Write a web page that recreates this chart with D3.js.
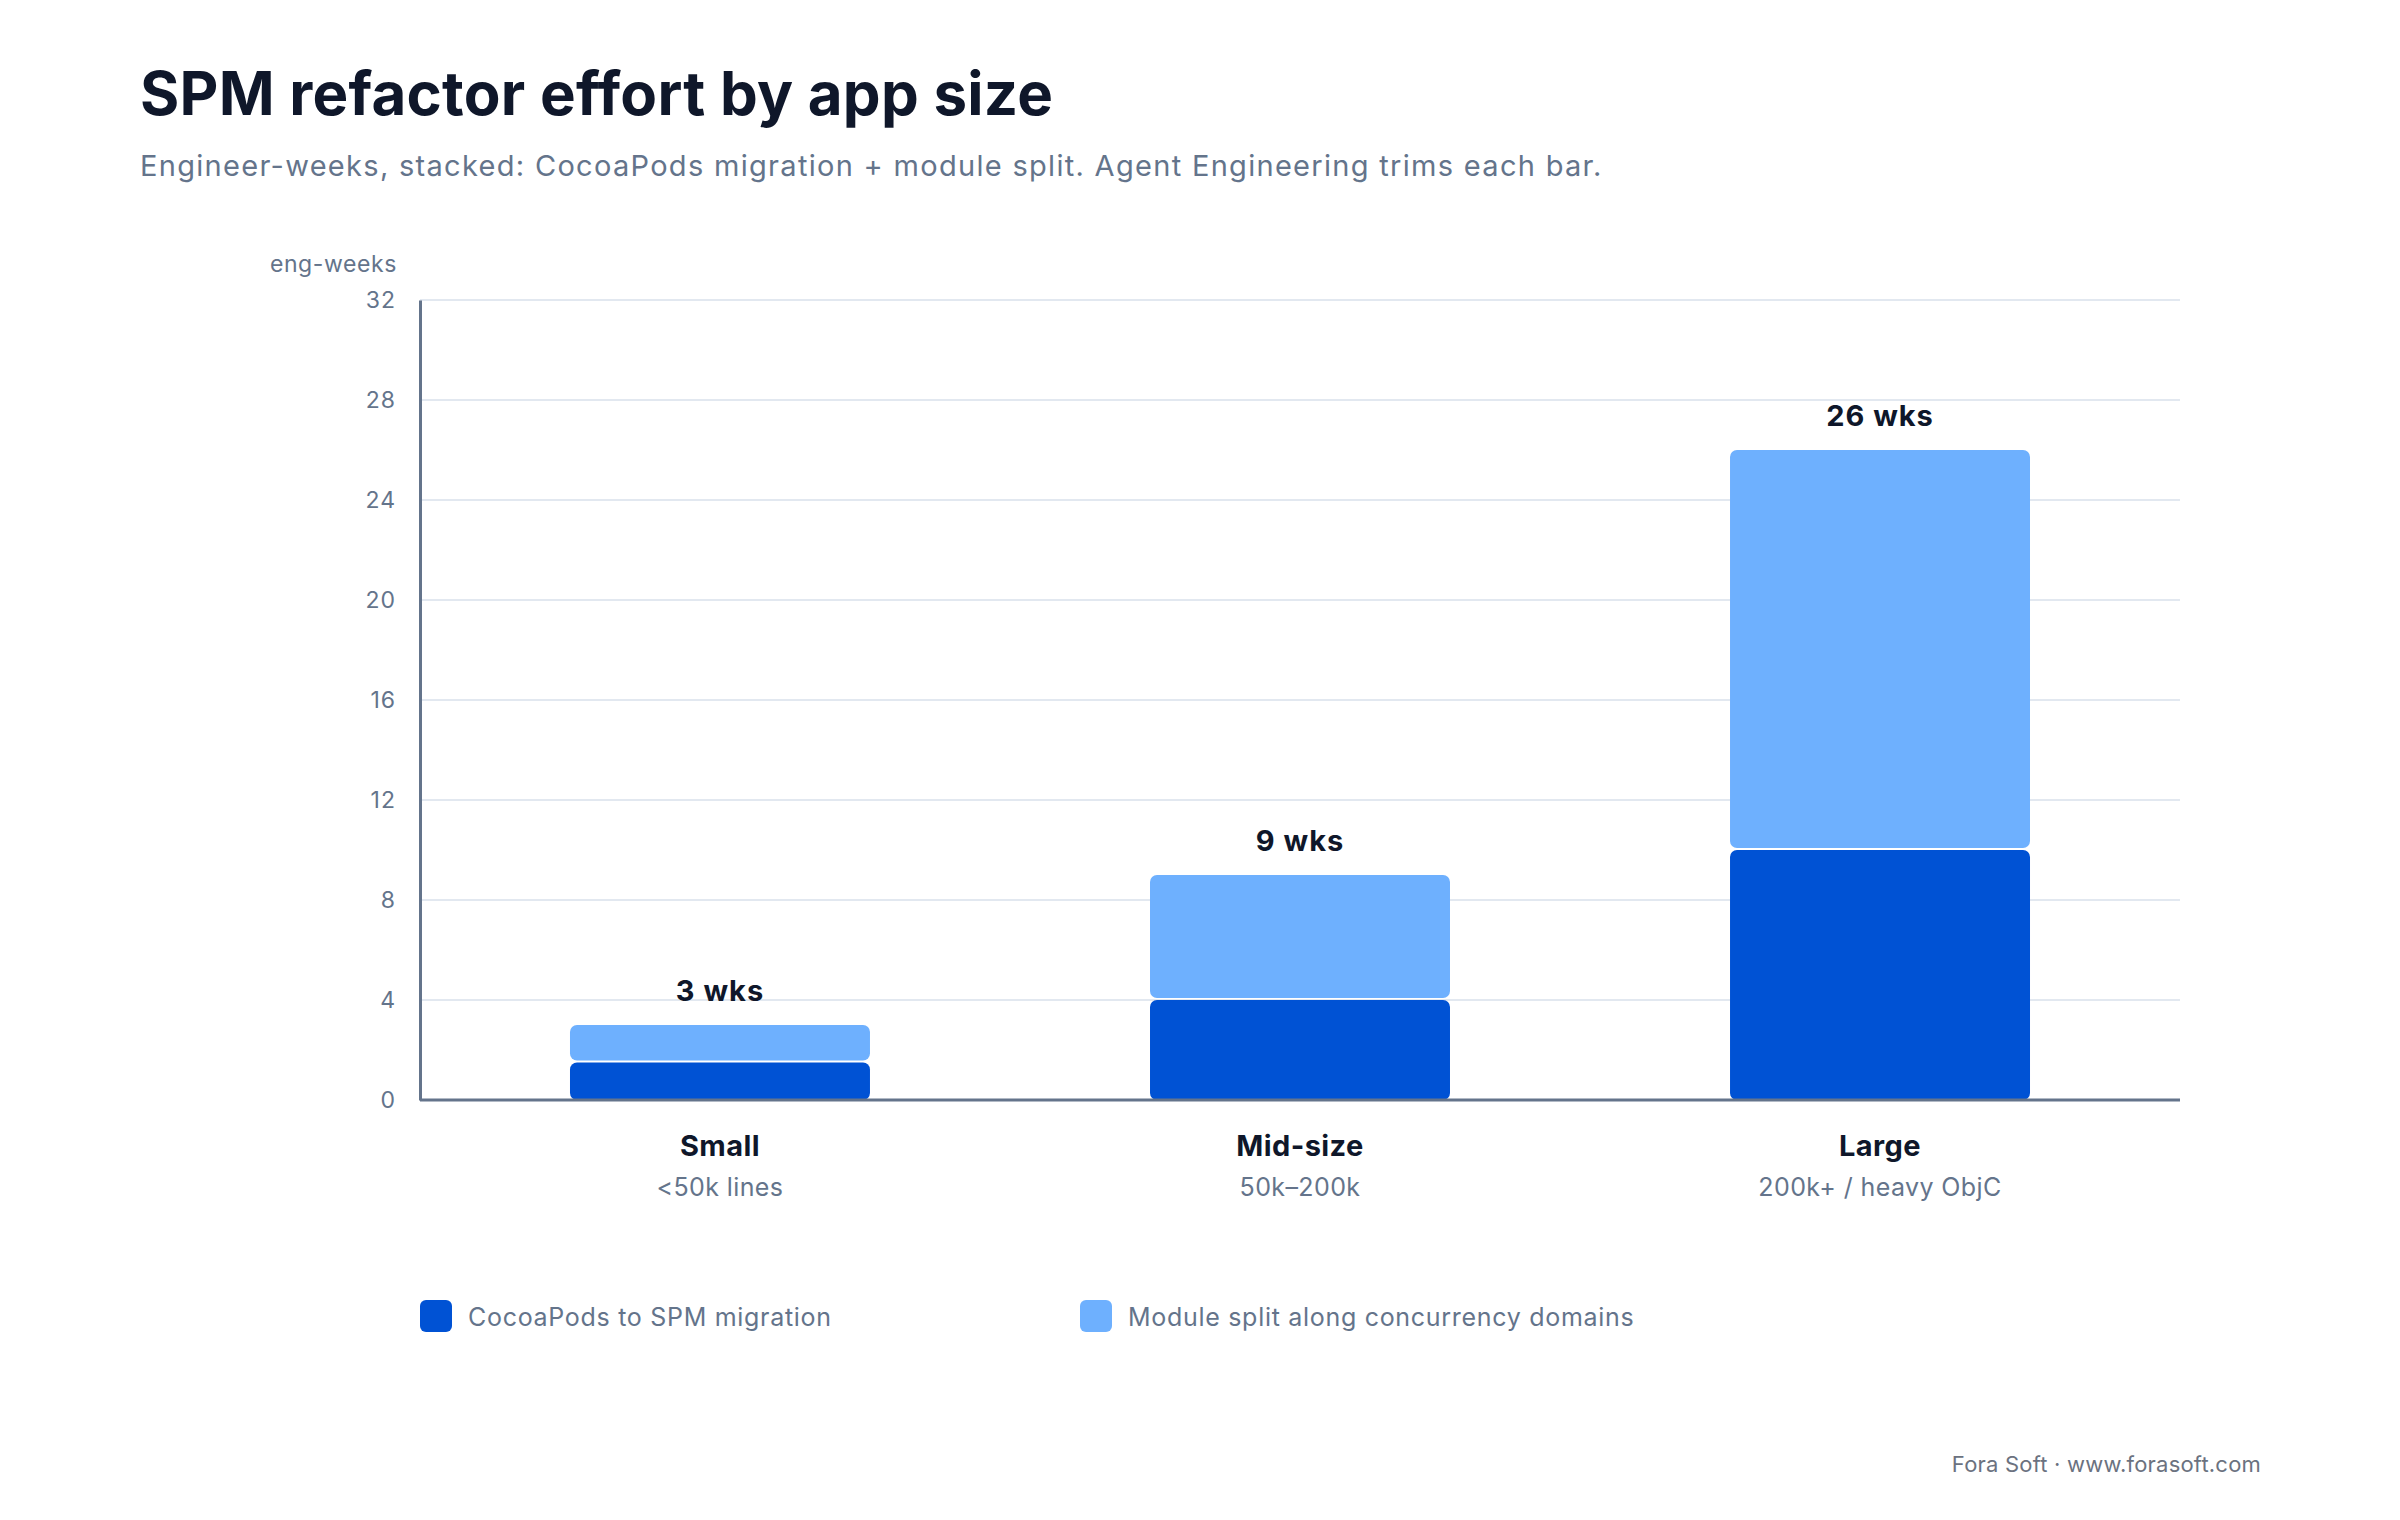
<!DOCTYPE html>
<html>
<head>
<meta charset="utf-8">
<script src="https://cdn.jsdelivr.net/npm/d3@7"></script>
<style>
  html, body { margin: 0; padding: 0; background: #ffffff; }
  svg { display: block; font-family: Inter, "Noto Sans", sans-serif; }
</style>
</head>
<body>
<div id="wrapper"></div>
<script>
const categories = ["Small", "Mid-size", "Large"]
const subLabels = ["<50k lines", "50k\u2013200k", "200k+ / heavy ObjC"]
const seriesNames = ["CocoaPods to SPM migration", "Module split along concurrency domains"]
const migration = [1.5, 4, 10]
const moduleSplit = [1.5, 5, 16]
const yTicks = [0, 4, 8, 12, 16, 20, 24, 28, 32]

const colors = ["#0052d4", "#6eb0fe"]

let dimensions = {
    width: 2400,
    height: 1520,
    margin: {
        top: 300,
        right: 220,
        bottom: 420,
        left: 420,
    }
}
dimensions.boundedWidth = dimensions.width - dimensions.margin.left - dimensions.margin.right
dimensions.boundedHeight = dimensions.height - dimensions.margin.top - dimensions.margin.bottom

const rows = categories.map((c, i) => ({
    category: c,
    sub: subLabels[i],
    migration: migration[i],
    moduleSplit: moduleSplit[i],
}))
const stacked = d3.stack().keys(["migration", "moduleSplit"])(rows)

const svg = d3.select("#wrapper")
    .append("svg")
    .attr("width", dimensions.width)
    .attr("height", dimensions.height)

// title + subtitle
svg.append("text")
    .attr("x", 140)
    .attr("y", 115)
    .attr("fill", "#0f172a")
    .style("font-size", "60px")
    .style("font-weight", 700)
    .style("letter-spacing", "0.25px")
    .text("SPM refactor effort by app size")

svg.append("text")
    .attr("x", 140)
    .attr("y", 176)
    .attr("fill", "#64748b")
    .style("font-size", "29px")
    .style("letter-spacing", "1.3px")
    .text("Engineer-weeks, stacked: CocoaPods migration + module split. Agent Engineering trims each bar.")

const bounds = svg.append("g")
    .attr("transform", `translate(${dimensions.margin.left}, ${dimensions.margin.top})`)

const xScale = d3.scaleBand()
    .domain(categories)
    .range([0, dimensions.boundedWidth])
    .paddingInner(0.4828)
    .paddingOuter(0.2586)

const yScale = d3.scaleLinear()
    .domain([0, 32])
    .range([dimensions.boundedHeight, 0])

// gridlines
bounds.append("g")
    .selectAll("line")
    .data(yTicks.filter(d => d > 0))
    .join("line")
    .attr("x1", 0)
    .attr("x2", dimensions.boundedWidth)
    .attr("y1", d => yScale(d))
    .attr("y2", d => yScale(d))
    .attr("stroke", "#e2e8f0")
    .attr("stroke-width", 2)

// y axis
const yAxis = bounds.append("g")
    .call(d3.axisLeft(yScale).tickValues(yTicks).tickSize(0).tickPadding(24))
yAxis.select(".domain")
    .attr("stroke", "#64748b")
    .attr("stroke-width", 3)
yAxis.selectAll("text")
    .attr("fill", "#64748b")
    .style("font-size", "23px")
    .style("letter-spacing", "1px")
    .style("font-family", "Inter, sans-serif")

bounds.append("text")
    .attr("x", -23)
    .attr("y", -28)
    .attr("text-anchor", "end")
    .attr("fill", "#64748b")
    .style("font-size", "23px")
    .style("letter-spacing", "0.6px")
    .text("eng-weeks")

// bars
const barGap = 2
bounds.append("g")
    .selectAll("g")
    .data(stacked)
    .join("g")
    .attr("fill", (d, i) => colors[i])
    .selectAll("rect")
    .data(d => d)
    .join("rect")
    .attr("x", d => xScale(d.data.category))
    .attr("width", xScale.bandwidth())
    .attr("y", d => yScale(d[1]))
    .attr("height", d => Math.max(0, yScale(d[0]) - yScale(d[1]) - (d[0] > 0 ? barGap : 0)))
    .attr("rx", 7)

// baseline
bounds.append("line")
    .attr("x1", 0)
    .attr("x2", dimensions.boundedWidth)
    .attr("y1", dimensions.boundedHeight)
    .attr("y2", dimensions.boundedHeight)
    .attr("stroke", "#64748b")
    .attr("stroke-width", 3)

// totals
bounds.append("g")
    .selectAll("text")
    .data(rows)
    .join("text")
    .attr("x", d => xScale(d.category) + xScale.bandwidth() / 2)
    .attr("y", d => yScale(d.migration + d.moduleSplit) - 24)
    .attr("text-anchor", "middle")
    .attr("fill", "#0f172a")
    .style("font-size", "29px")
    .style("font-weight", 700)
    .style("letter-spacing", "1px")
    .text(d => `${d.migration + d.moduleSplit} wks`)

// category labels
const xLabels = bounds.append("g")
    .selectAll("g")
    .data(rows)
    .join("g")
    .attr("transform", d => `translate(${xScale(d.category) + xScale.bandwidth() / 2}, ${dimensions.boundedHeight})`)
xLabels.append("text")
    .attr("y", 56)
    .attr("text-anchor", "middle")
    .attr("fill", "#0f172a")
    .style("font-size", "29px")
    .style("font-weight", 700)
    .style("letter-spacing", "0.4px")
    .text(d => d.category)
xLabels.append("text")
    .attr("y", 96)
    .attr("text-anchor", "middle")
    .attr("fill", "#64748b")
    .style("font-size", "25px")
    .style("letter-spacing", "0.4px")
    .text(d => d.sub)

// legend
const legend = svg.append("g")
    .selectAll("g")
    .data(seriesNames)
    .join("g")
    .attr("transform", (d, i) => `translate(${420 + i * 660}, 1300)`)
legend.append("rect")
    .attr("width", 32)
    .attr("height", 32)
    .attr("rx", 6)
    .attr("fill", (d, i) => colors[i])
legend.append("text")
    .attr("x", 48)
    .attr("y", 26)
    .attr("fill", "#64748b")
    .style("font-size", "25px")
    .style("letter-spacing", "0.7px")
    .text(d => d)

// footer
svg.append("text")
    .attr("x", 2261)
    .attr("y", 1472)
    .attr("text-anchor", "end")
    .attr("fill", "#6b7280")
    .style("font-size", "22px")
    .style("letter-spacing", "0.2px")
    .text("Fora Soft \u00b7 www.forasoft.com")
</script>
</body>
</html>
